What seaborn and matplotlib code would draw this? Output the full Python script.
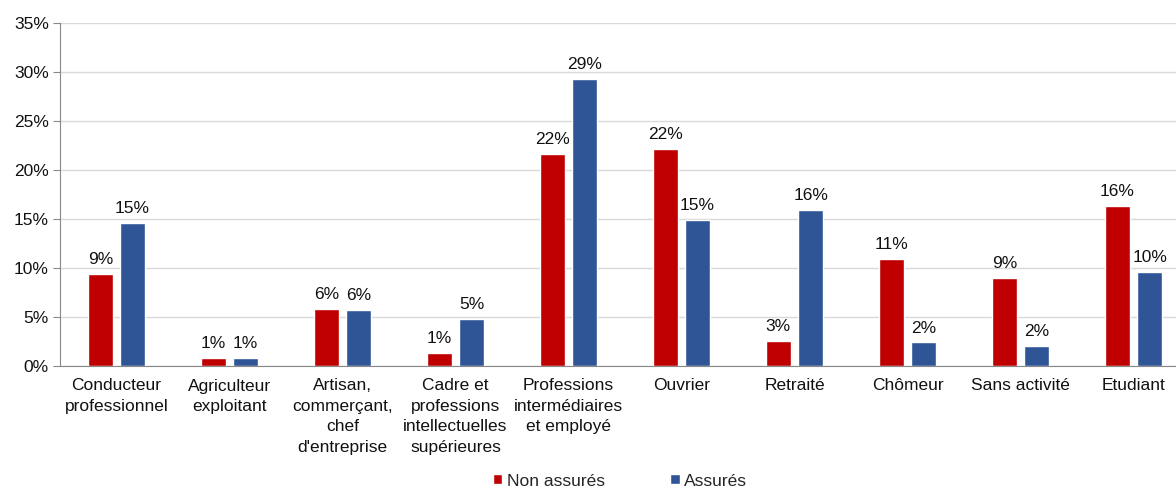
import matplotlib
matplotlib.use("Agg")
import matplotlib.pyplot as plt
import seaborn as sns
import pandas as pd
import numpy as np

categories = ["Conducteur\nprofessionnel", "Agriculteur\nexploitant",
              "Artisan,\ncommerçant,\nchef\nd'entreprise",
              "Cadre et\nprofessions\nintellectuelles\nsupérieures",
              "Professions\nintermédiaires\net employé",
              "Ouvrier", "Retraité", "Chômeur", "Sans activité", "Etudiant"]
non_assures = [9.4, 0.8, 5.8, 1.3, 21.6, 22.1, 2.6, 10.9, 9.0, 16.3]
assures = [14.6, 0.8, 5.7, 4.8, 29.3, 14.9, 15.9, 2.4, 2.0, 9.6]
series = ["Non assurés", "Assurés"]
colors = ["#C00000", "#2F5597"]

df = pd.DataFrame({
    "cat": categories * 2,
    "val": non_assures + assures,
    "serie": [series[0]] * len(categories) + [series[1]] * len(categories),
})

sns.set_style("white")
plt.rcParams["font.family"] = ["Liberation Sans", "DejaVu Sans"]
fs = 12.5

fig = plt.figure(figsize=(11.76, 4.88), dpi=100)
ax = fig.add_axes([60 / 1176, 1 - 366 / 488, 1130 / 1176, 343 / 488])

sns.barplot(data=df, x="cat", y="val", hue="serie", palette=colors,
            saturation=1, width=0.57, gap=0.2, ax=ax, legend=True)

for cont in ax.containers:
    ax.bar_label(cont, labels=[f"{v:.0f}%" for v in cont.datavalues],
                 padding=5, fontsize=fs, color="#111111")

ax.set_ylim(0, 35)
ax.set_yticks(range(0, 36, 5))
ax.set_yticklabels([f"{t}%" for t in range(0, 36, 5)], fontsize=fs)
ax.yaxis.grid(True, color="#d9d9d9", linewidth=1)
ax.set_axisbelow(True)
ax.set_xlim(-0.5, len(categories) - 0.5)
ax.set_xticks(range(len(categories)))
ax.set_xticklabels(categories, fontsize=fs, linespacing=1.45)
ax.tick_params(axis="x", length=0, pad=9, colors="#111111")
ax.set_xticks(np.arange(-0.5, len(categories), 1), minor=True)
ax.tick_params(axis="x", which="minor", length=5, color="#888888")
ax.tick_params(axis="y", length=5, color="#888888", labelcolor="#111111",
               left=True, pad=3)
ax.set_xlabel("")
ax.set_ylabel("")
for s in ["top", "right"]:
    ax.spines[s].set_visible(False)
for s in ["left", "bottom"]:
    ax.spines[s].set_color("#888888")

leg = ax.legend(loc="center", bbox_to_anchor=(620 / 1176, 1 - 481 / 488),
                bbox_transform=fig.transFigure, ncol=2, frameon=False,
                fontsize=fs, handlelength=0.52, handleheight=0.52,
                handletextpad=0.25, columnspacing=3.8, borderpad=0)

fig.savefig("out.png", dpi=100)
